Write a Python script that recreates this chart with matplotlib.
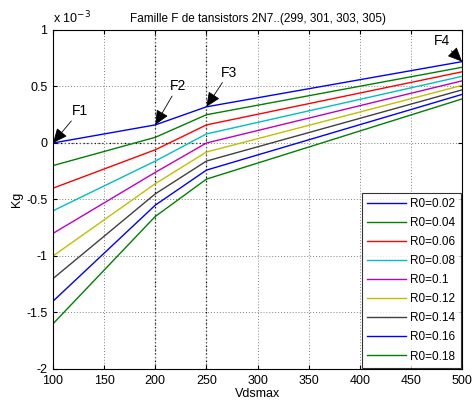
import matplotlib
matplotlib.use("Agg")
import matplotlib.pyplot as plt

plt.rcParams["font.family"] = ["Liberation Sans", "DejaVu Sans"]

vdsmax = [100, 200, 250, 500]
r0_labels = ["R0=0.02", "R0=0.04", "R0=0.06", "R0=0.08", "R0=0.1",
             "R0=0.12", "R0=0.14", "R0=0.16", "R0=0.18"]
# Kg values in units of 1e-3
kg = [
    [0.00, 0.16, 0.32, 0.72],
    [-0.20, 0.05, 0.25, 0.67],
    [-0.40, -0.06, 0.16, 0.63],
    [-0.60, -0.16, 0.08, 0.59],
    [-0.80, -0.26, 0.00, 0.55],
    [-1.00, -0.36, -0.08, 0.51],
    [-1.20, -0.45, -0.16, 0.47],
    [-1.40, -0.55, -0.24, 0.43],
    [-1.60, -0.65, -0.32, 0.39],
]
colors = ["#0000ff", "#008000", "#ff0000", "#00bfbf", "#bf00bf",
          "#bfbf00", "#404040", "#0000ff", "#008000"]

# annotation points (x, y) and text positions
marks = ["F1", "F2", "F3", "F4"]
mark_xy = [(100, 0.0), (200, 0.16), (250, 0.32), (500, 0.72)]
text_xy = [(118, 0.22), (214, 0.44), (264, 0.56), (472, 0.84)]

fig = plt.figure(figsize=(4.72, 4.08), dpi=100)
ax = fig.add_axes([0.1123, 0.0956, 0.8667, 0.8309])

for vals, lab, col in zip(kg, r0_labels, colors):
    ax.plot(vdsmax, vals, color=col, lw=1.0, label=lab)

ax.vlines([200, 250], -2, 1, colors="k", linestyles=(0, (1, 2)), lw=0.9, zorder=1)
ax.hlines(0, 100, 250, colors="k", linestyles=(0, (1, 2)), lw=0.9, zorder=1)

for name, xy, txy in zip(marks, mark_xy, text_xy):
    ax.annotate(name, xy=xy, xytext=txy, fontsize=10,
                ha="left", va="bottom",
                arrowprops=dict(arrowstyle="-|>,head_length=0.9,head_width=0.4",
                                color="k", lw=0.6, shrinkA=0, shrinkB=0))

ax.set_xlim(100, 500)
ax.set_ylim(-2, 1)
ax.set_xticks([100, 150, 200, 250, 300, 350, 400, 450, 500])
ax.set_yticks([-2, -1.5, -1, -0.5, 0, 0.5, 1])
ax.set_yticklabels(["-2", "-1.5", "-1", "-0.5", "0", "0.5", "1"])
ax.tick_params(labelsize=9, direction="in", length=3, top=True, right=True)
ax.tick_params(axis="x", pad=4)
ax.tick_params(axis="y", pad=4)
ax.grid(True, color="#808080", linestyle=(0, (1, 2)), lw=0.7)
for s in ax.spines.values():
    s.set_linewidth(0.8)

ax.set_xlabel("Vdsmax", fontsize=9, labelpad=1)
ax.set_ylabel("Kg", fontsize=9, labelpad=2)
ax.set_title("Famille F de tansistors 2N7..(299, 301, 303, 305)", fontsize=8.5, pad=6)
ax.text(0.0, 1.01, r"x 10$^{-3}$", transform=ax.transAxes, fontsize=9,
        ha="left", va="bottom")

leg = ax.legend(loc="lower right", fontsize=8.5, frameon=True, fancybox=False,
                borderaxespad=0.1, handlelength=3.3, labelspacing=0.6,
                handletextpad=0.35, borderpad=0.45)
leg.get_frame().set_edgecolor("k")
leg.get_frame().set_linewidth(0.8)

fig.savefig("out.png", dpi=100)
